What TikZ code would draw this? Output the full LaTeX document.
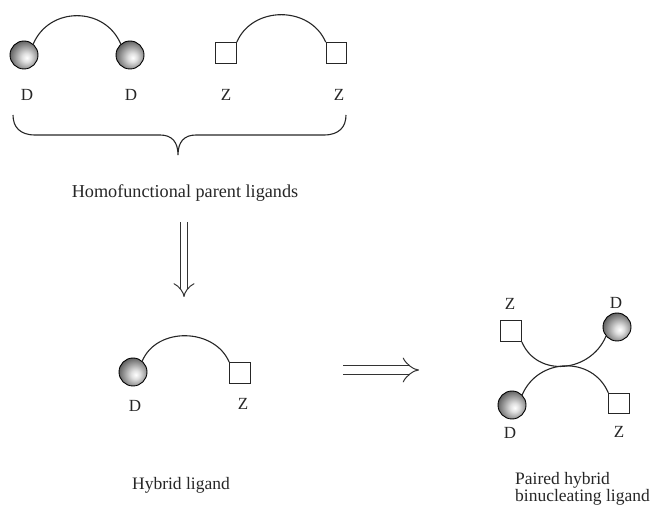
\documentclass[tikz,border=0pt]{standalone}
\usepackage{fontspec}
\setmainfont{Liberation Serif}
\usetikzlibrary{arrows.meta}
\pgfdeclareradialshading{myball}{\pgfpoint{5bp}{-5bp}}{color(0bp)=(white); color(8bp)=(gray!25); color(28bp)=(gray!80!black); color(42bp)=(black!85); color(70bp)=(black!85)}
\begin{document}
\begin{tikzpicture}[x=1pt,y=1pt,
  ballnode/.style={circle, draw=black, line width=0.9pt, minimum size=28pt, inner sep=0pt, shading=myball},
  boxnode/.style={rectangle, draw=black!85, line width=1pt, minimum size=20.5pt, inner sep=0pt, fill=white},
  lbl/.style={font=\fontsize{17}{18}\selectfont, inner sep=0pt, text=black!85},
  txt/.style={font=\fontsize{17.5}{15.5}\selectfont, inner sep=0pt, text=black!85},
  link/.style={line width=1.1pt, black!85},
  dbl/.style={double, double distance=6.5pt, line width=1pt, draw=black!80, -{Implies}}]
\useasboundingbox (0,0) rectangle (655,508);
% homofunctional parents
\node[ballnode] (b1) at (24,453) {};
\node[ballnode] (b2) at (130,453) {};
\node[boxnode] (s1) at (226,455) {};
\node[boxnode] (s2) at (336.5,455) {};
\draw[link] (b1.50) to[out=67,in=113,looseness=1.2] (b2.130);
\draw[link] (s1.north east) to[out=67,in=113,looseness=1.15] (s2.north west);
\node[lbl] (d1) at (27,413) {D};
\node[lbl] (d2) at (131,413) {D};
\node[lbl] (z1) at (226,413) {Z};
\node[lbl] (z2) at (339,413) {Z};
% brace
\draw[line width=1.1pt, black!85] (13,393) .. controls (13,381) and (20,373) .. (35,373) -- (160,373) .. controls (172,373) and (178,366) .. (178,353)
  .. controls (178,366) and (184,373) .. (196,373) -- (324,373) .. controls (339,373) and (346,381) .. (346,393);
\node[txt, font=\fontsize{18.2}{16}\selectfont] (homo) at (185,315) {Homofunctional parent ligands};
% down arrow
\coordinate (da1) at (184,286);
\coordinate (da2) at (184,211);
\draw[dbl] (da1) -- (da2);
% hybrid
\node[ballnode] (b3) at (133,136) {};
\node[boxnode] (s3) at (240,135) {};
\draw[link] (b3.50) to[out=67,in=113,looseness=1.1] (s3.north west);
\node[lbl] (d3) at (135,102) {D};
\node[lbl] (z3) at (243,104) {Z};
\node[txt] (hyb) at (181,23) {Hybrid ligand};
% right arrow
\coordinate (ra1) at (343,138);
\coordinate (ra2) at (419,138);
\draw[dbl, double distance=8pt] (ra1) -- (ra2);
% paired
\node[boxnode] (s4) at (511,177) {};
\node[ballnode] (b4) at (617,181) {};
\node[ballnode] (b5) at (512,103) {};
\node[boxnode] (s5) at (619,104.5) {};
\draw[link] (s4.south east) to[out=-67,in=-113,looseness=1.2] (b4.220);
\draw[link] (b5.45) to[out=67,in=113,looseness=1.2] (s5.north west);
\node[lbl] (z4) at (510,204) {Z};
\node[lbl] (d4) at (616,205) {D};
\node[lbl] (d5) at (510,75) {D};
\node[lbl] (z5) at (619,76) {Z};
\node[txt, align=left, anchor=west] (pair) at (515,19) {Paired hybrid\\binucleating ligand};
\end{tikzpicture}
\end{document}
